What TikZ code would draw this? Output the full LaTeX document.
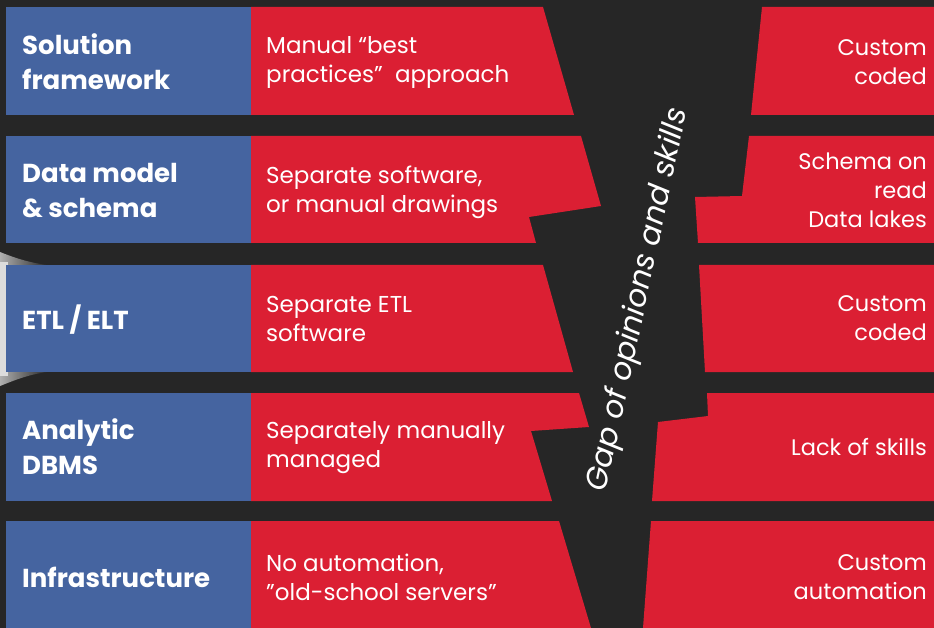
\documentclass[tikz,border=0pt]{standalone}
\usepackage{fontspec}
\setmainfont{Poppins}
\definecolor{bgc}{HTML}{262626}
\definecolor{bluec}{HTML}{4564A0}
\definecolor{redc}{HTML}{DB1F33}
\definecolor{lgray}{HTML}{DCDCDC}
\definecolor{mgray}{HTML}{AFAFAF}
\tikzset{
  bluebar/.style={fill=bluec, draw=none},
  redpiece/.style={fill=redc, draw=none},
  lbl/.style={text=white, anchor=west, align=left, inner sep=0pt, font=\bfseries\fontsize{26}{35}\selectfont},
  midtxt/.style={text=white, anchor=west, align=left, inner sep=0pt, font=\fontsize{23}{29}\selectfont},
  righttxt/.style={text=white, anchor=east, align=right, inner sep=0pt, font=\fontsize{22.5}{29}\selectfont},
  gaptxt/.style={text=white, inner sep=0pt, rotate=78, font=\itshape\fontsize{30.5}{32}\selectfont}
}
\begin{document}
\begin{tikzpicture}[x=1pt,y=-1pt]
\useasboundingbox (0,0) rectangle (934,628);
\fill[bgc] (0,0) rectangle (934,628);
% grey shape peeking at the left
\shade[left color=mgray, right color=bgc] (0,252) .. controls (15,258) and (30,263) .. (48,265) -- (48,372) .. controls (30,374) and (15,380) .. (0,386) -- cycle;
\fill[lgray] (0,262) rectangle (8,376);
% blue bars
\fill[bluebar] (6,7) rectangle (251,115);
\fill[bluebar] (6,136) rectangle (251,243);
\fill[bluebar] (6,265) rectangle (251,372);
\fill[bluebar] (6,393) rectangle (251,501);
\fill[bluebar] (6,521) rectangle (251,628);
% red pieces, left of the gap
\fill[redpiece] (251,7) -- (543,7) -- (574,115) -- (251,115) -- cycle;
\fill[redpiece] (251,136) -- (581,136) -- (601,206) -- (529,217) -- (536,243) -- (251,243) -- cycle;
\fill[redpiece] (251,265) -- (543,265) -- (573,372) -- (251,372) -- cycle;
\fill[redpiece] (251,393) -- (579,393) -- (589,427) -- (531,431) -- (552,501) -- (251,501) -- cycle;
\fill[redpiece] (251,521) -- (559,521) -- (591,628) -- (251,628) -- cycle;
% red pieces, right of the gap
\fill[redpiece] (762,7) -- (934,7) -- (934,115) -- (751,115) -- cycle;
\fill[redpiece] (749,136) -- (934,136) -- (934,243) -- (698,243) -- (695,197) -- (742,196) -- cycle;
\fill[redpiece] (699,265) -- (934,265) -- (934,372) -- (705,372) -- cycle;
\fill[redpiece] (707,393) -- (934,393) -- (934,501) -- (652,501) -- (658,422) -- (708,416) -- cycle;
\fill[redpiece] (651,521) -- (934,521) -- (934,628) -- (643,628) -- cycle;
% labels
\node[lbl] (l1) at (22,62) {Solution\\framework};
\node[lbl] (l2) at (22,191) {Data model\\\& schema};
\node[lbl] (l3) at (22,320) {ETL / ELT};
\node[lbl] (l4) at (22,447) {Analytic\\DBMS};
\node[lbl] (l5) at (22,577) {Infrastructure};
% middle texts
\node[midtxt] (m1) at (266,62) {Manual “best\\practices”\ \ approach};
\node[midtxt] (m2) at (266,192) {Separate software,\\or manual drawings};
\node[midtxt] (m3) at (266,319) {Separate ETL\\software};
\node[midtxt] (m4) at (266,448) {Separately manually\\managed};
\node[midtxt] (m5) at (266,577) {No automation,\\”old-school servers”};
% right texts
\node[righttxt] (r1) at (927,62) {Custom\\coded};
\node[righttxt] (r2) at (927,190) {Schema on\\read\\Data lakes};
\node[righttxt] (r3) at (927,318) {Custom\\coded};
\node[righttxt] (r4) at (927,447) {Lack of skills};
\node[righttxt] (r5) at (927,577) {Custom\\automation};
% gap text
\node[gaptxt] (gap) at (639,300) {Gap of opinions and skills};
\end{tikzpicture}
\end{document}
